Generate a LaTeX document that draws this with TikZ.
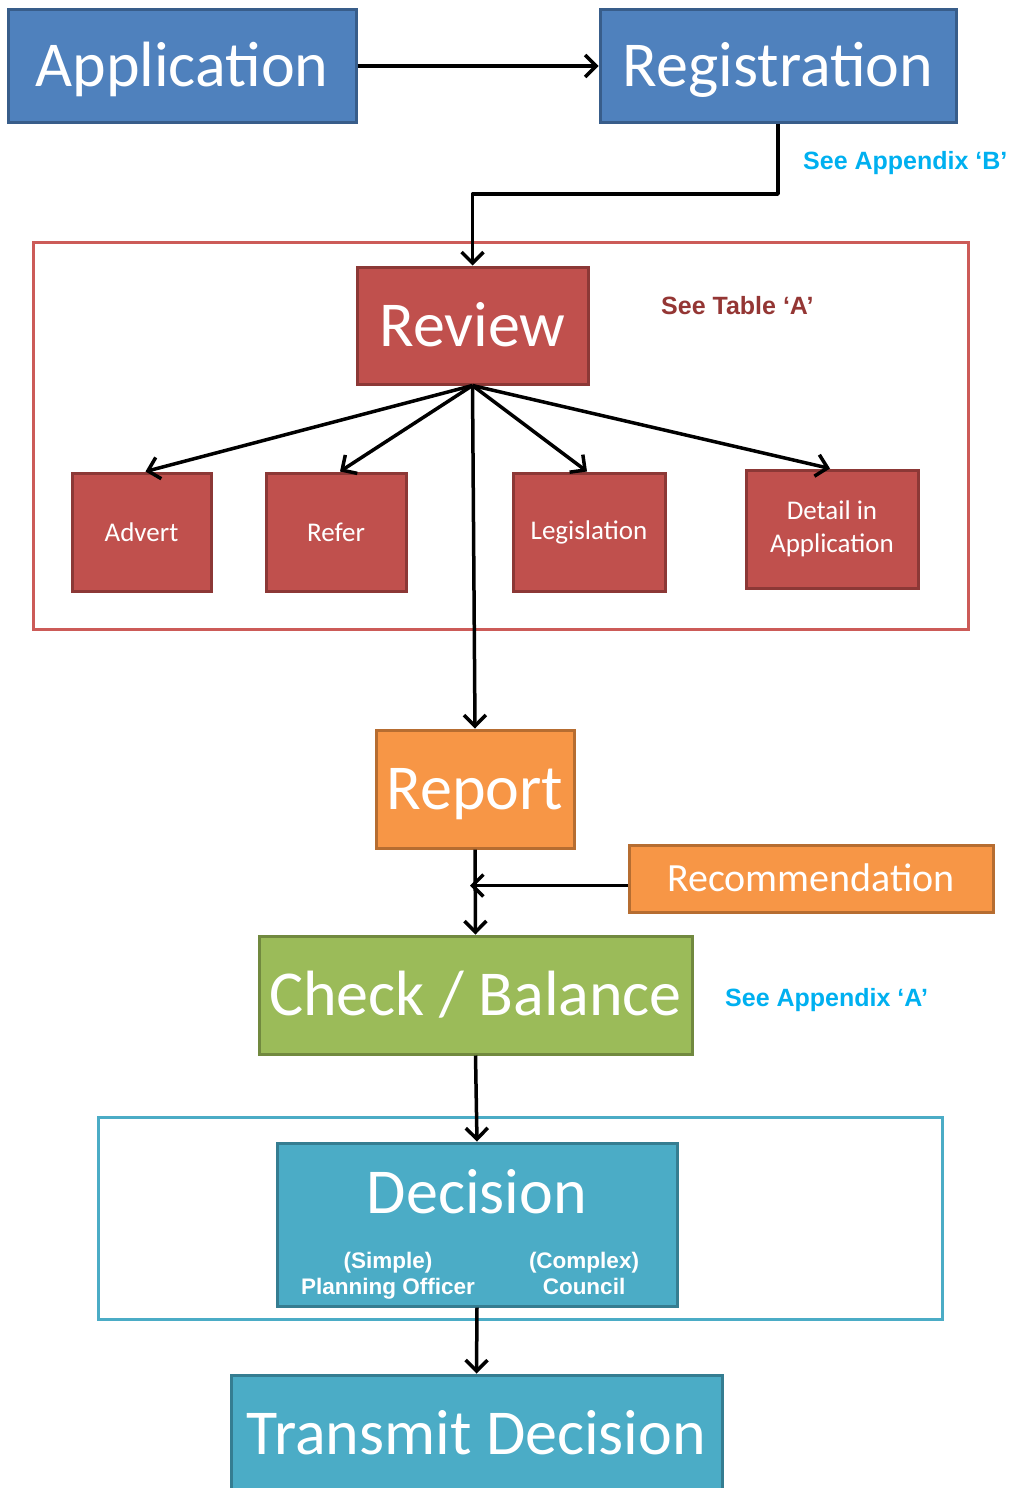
\documentclass[tikz,border=0pt]{standalone}
\usepackage{fontspec}
\setmainfont{Carlito}
\newfontfamily\arialfont{Liberation Sans}
\usetikzlibrary{arrows.meta}
\definecolor{bluefill}{HTML}{4F81BD}
\definecolor{blueline}{HTML}{385D8A}
\definecolor{redfill}{HTML}{C0504D}
\definecolor{redline}{HTML}{8C3836}
\definecolor{redframe}{HTML}{CC5B58}
\definecolor{orangefill}{HTML}{F79646}
\definecolor{orangeline}{HTML}{B66D31}
\definecolor{greenfill}{HTML}{9BBB59}
\definecolor{greenline}{HTML}{71893F}
\definecolor{aquafill}{HTML}{4BACC6}
\definecolor{aqualine}{HTML}{357D91}
\definecolor{cyantext}{HTML}{00B0F0}
\definecolor{darkredtext}{HTML}{943634}
\begin{document}
\begin{tikzpicture}[x=1pt,y=-1pt,
  box/.style={draw, line width=3pt, text=white, inner sep=0pt},
  bigtext/.style={font=\fontsize{64}{72}\selectfont, text height=41pt, text depth=0pt},
  smalltext/.style={font=\fontsize{27}{33}\selectfont, align=center},
  bluebox/.style={box, fill=bluefill, draw=blueline},
  redbox/.style={box, fill=redfill, draw=redline},
  orangebox/.style={box, fill=orangefill, draw=orangeline},
  greenbox/.style={box, fill=greenfill, draw=greenline},
  aquabox/.style={box, fill=aquafill, draw=aqualine},
  frame/.style={draw, line width=3pt, fill=none, inner sep=0pt},
  note/.style={font=\arialfont\bfseries\fontsize{25}{30}\selectfont, inner sep=0pt},
  subnote/.style={font=\arialfont\bfseries\fontsize{22.5}{26}\selectfont, text=white, anchor=base, inner sep=0pt},
  conn/.style={line width=3.5pt, line join=round, -{Straight Barb[length=11pt,width=22pt,line width=3.5pt]}}
]
\useasboundingbox (0,0) rectangle (1011,1488);
\clip (0,0) rectangle (1011,1488);

% containers
\node[frame, draw=redframe, minimum width=935pt, minimum height=387pt] (redframe) at (500.5,435.5) {};
\node[frame, draw=aquafill, minimum width=844pt, minimum height=202pt] (aquaframe) at (520,1218) {};

% main boxes
\node[bluebox, bigtext, minimum width=348pt, minimum height=112pt] (application) at (182,66) {Application};
\node[bluebox, bigtext, minimum width=356pt, minimum height=112pt] (registration) at (778,66) {Registration};
\node[redbox, bigtext, minimum width=231pt, minimum height=117pt] (review) at (472.5,325.5) {Review};
\node[redbox, smalltext, minimum width=139pt, minimum height=118pt] (advert) at (141.5,532) {Advert};
\node[redbox, smalltext, minimum width=140pt, minimum height=118pt] (refer) at (336,532) {Refer};
\node[redbox, smalltext, minimum width=152pt, minimum height=118pt] (legislation) at (589,532) {Legislation};
\node[redbox, smalltext, minimum width=172pt, minimum height=118pt] (detail) at (832,529) {Detail in\\Application};
\node[orangebox, bigtext, minimum width=198pt, minimum height=118pt] (report) at (475,789) {Report};
\node[orangebox, font=\fontsize{40}{48}\selectfont, text height=26pt, text depth=0pt, minimum width=364pt, minimum height=67pt] (recommendation) at (811,878.5) {Recommendation};
\node[greenbox, bigtext, minimum width=433pt, minimum height=118pt] (check) at (475.5,995) {Check / Balance};
\node[aquabox, minimum width=400pt, minimum height=163pt] (decision) at (477,1224.5) {};
\node[bigtext, text=white, inner sep=0pt] (dectitle) at (477,1192.5) {Decision};
\node[subnote] (simpleA) at (388,1268) {(Simple)};
\node[subnote] (simpleB) at (388,1294) {Planning Officer};
\node[subnote] (complexA) at (584,1268) {(Complex)};
\node[subnote] (complexB) at (584,1294) {Council};
\node[aquabox, bigtext, minimum width=491pt, minimum height=118pt] (transmit) at (476.5,1434) {Transmit Decision};

% notes
\node[note, text=cyantext, anchor=west] (appB) at (803,163) {See Appendix ‘B’};
\node[note, text=darkredtext, anchor=west] (tableA) at (661,306) {See Table ‘A’};
\node[note, text=cyantext, anchor=west] (appA) at (725,1000) {See Appendix ‘A’};

% connectors
\coordinate (bend) at (472.5,194);
\draw[conn] (application.east) -- (registration.west);
\draw[conn] (registration.south) |- (bend) -- (review.north);
\draw[conn] (review.south) -- ([xshift=4pt]advert.north);
\draw[conn] (review.south) -- ([xshift=4pt]refer.north);
\draw[conn] (review.south) -- ([xshift=-2pt]legislation.north);
\draw[conn] (review.south) -- ([xshift=-2pt]detail.north);
\draw[conn] (review.south) -- (report.north);
\draw[conn] (report.south) -- (check.north);
\draw[conn] ([yshift=-7pt]recommendation.west) -- ([xshift=-5pt,yshift=-7pt]recommendation.west -| report.south);
\draw[conn] (check.south) -- (decision.north);
\draw[conn] (decision.south) -- (transmit.north);
\end{tikzpicture}
\end{document}
